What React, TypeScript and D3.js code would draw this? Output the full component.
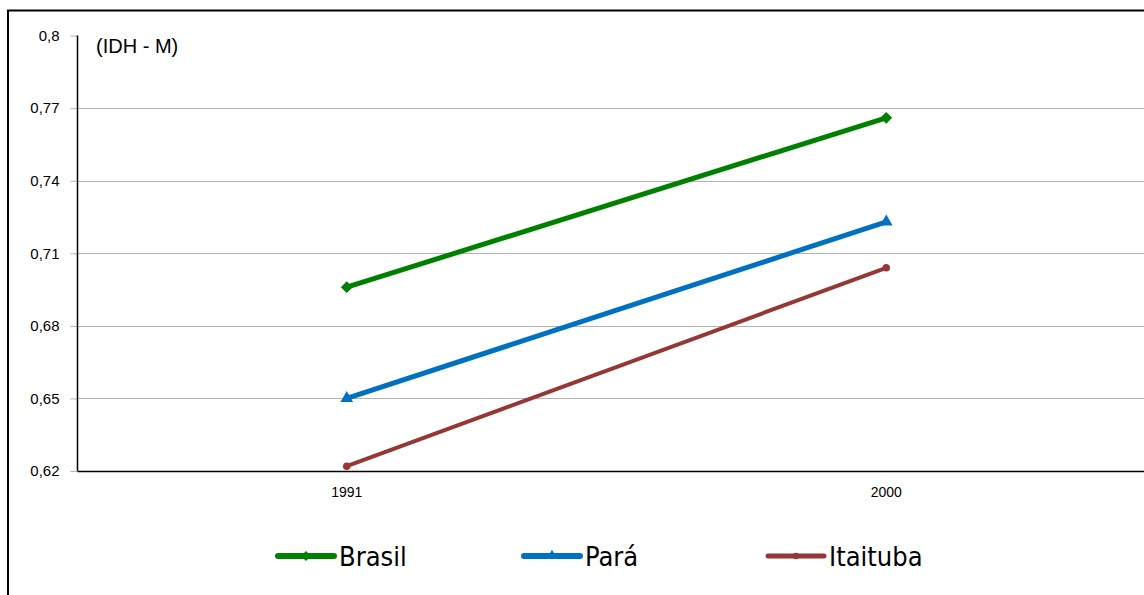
import React, { useEffect, useRef } from "react";
import * as d3 from "d3";

const years = ["1991", "2000"];
const brasil = [0.696, 0.766];
const para = [0.65, 0.723];
const itaituba = [0.622, 0.704];
const yTicks = [0.62, 0.65, 0.68, 0.71, 0.74, 0.77, 0.8];

// square rotated 45deg for a less elongated diamond
const diamond = {
  draw(ctx: any, size: number) {
    const r = Math.sqrt(size / 2);
    ctx.moveTo(0, -r);
    ctx.lineTo(r, 0);
    ctx.lineTo(0, r);
    ctx.lineTo(-r, 0);
    ctx.closePath();
  },
};

const series = [
  { name: "Brasil", values: brasil, color: "#008000", width: 5, symbol: diamond, size: 70 },
  { name: "Pará", values: para, color: "#0070C0", width: 5, symbol: d3.symbolTriangle, size: 70 },
  { name: "Itaituba", values: itaituba, color: "#953735", width: 4, symbol: d3.symbolCircle, size: 45 },
];

export default function App() {
  const ref = useRef<SVGSVGElement>(null);

  useEffect(() => {
    const svg = d3.select(ref.current);
    svg.selectAll("*").remove();

    const left = 77, right = 1156, top = 35.6, bottom = 471;
    const font = "'Liberation Sans', Arial, sans-serif";

    // outer frame
    svg.append("rect")
      .attr("x", 8).attr("y", 10.5)
      .attr("width", 1200).attr("height", 700)
      .attr("fill", "white").attr("stroke", "#000").attr("stroke-width", 2);

    const x = d3.scaleBand().domain(years).range([left, right]);
    const y = d3.scaleLinear().domain([0.62, 0.8]).range([bottom, top]);

    // grid
    svg.append("g").selectAll("line")
      .data(yTicks.filter(t => t > 0.62 && t < 0.8))
      .join("line")
      .attr("x1", left).attr("x2", 1144)
      .attr("y1", d => Math.round(y(d)) + 0.5).attr("y2", d => Math.round(y(d)) + 0.5)
      .attr("stroke", "#b3b3b3").attr("stroke-width", 1);

    // y axis
    const yAxis = d3.axisLeft(y)
      .tickValues(yTicks)
      .tickSize(7)
      .tickPadding(11)
      .tickFormat(d => String(d).replace(".", ","));
    const gy = svg.append("g").attr("transform", `translate(${left + 0.5},0)`).call(yAxis);
    gy.attr("font-size", null).attr("font-family", null);
    gy.select(".domain").remove();
    gy.selectAll(".tick line").attr("stroke", "#b3b3b3");
    gy.selectAll(".tick text")
      .style("font-family", font)
      .style("font-size", "15px").attr("fill", "#000");
    svg.append("line")
      .attr("x1", left + 0.5).attr("x2", left + 0.5)
      .attr("y1", top).attr("y2", bottom)
      .attr("stroke", "#000").attr("stroke-width", 1.5);

    // x axis
    const xAxis = d3.axisBottom(x).tickSize(0).tickPadding(16);
    const gx = svg.append("g").attr("transform", `translate(0,${bottom})`).call(xAxis);
    gx.attr("font-size", null).attr("font-family", null);
    gx.select(".domain").attr("stroke", "#000").attr("stroke-width", 1.5);
    gx.selectAll(".tick text")
      .style("font-family", font)
      .style("font-size", "14px").attr("fill", "#000");

    svg.append("text")
      .attr("x", 96).attr("y", 53)
      .style("font-family", font)
      .style("font-size", "20px")
      .text("(IDH - M)");

    const cx = (i: number) => (x(years[i]) as number) + x.bandwidth() / 2;
    const line = d3.line<number>().x((_, i) => cx(i)).y(d => y(d));

    series.forEach(s => {
      svg.append("path")
        .datum(s.values)
        .attr("d", line)
        .attr("fill", "none")
        .attr("stroke", s.color)
        .attr("stroke-width", s.width)
        .attr("stroke-linecap", "round");
      svg.append("g").selectAll("path")
        .data(s.values)
        .join("path")
        .attr("transform", (d, i) => `translate(${cx(i)},${y(d)})`)
        .attr("d", d3.symbol().type(s.symbol as any).size(s.size)())
        .attr("fill", s.color);
    });

    // legend
    const legendX = [278, 524, 768];
    series.forEach((s, i) => {
      const g = svg.append("g").attr("transform", `translate(${legendX[i]},556)`);
      g.append("line")
        .attr("x1", 0).attr("x2", 56)
        .attr("stroke", s.color).attr("stroke-width", s.width + 1)
        .attr("stroke-linecap", "round");
      g.append("path")
        .attr("transform", "translate(28,0)")
        .attr("d", d3.symbol().type(s.symbol as any).size(s.size * 0.7)())
        .attr("fill", s.color);
      g.append("text")
        .attr("x", 61).attr("y", 10)
        .style("font-family", "'Liberation Sans Narrow', 'DejaVu Sans Condensed', sans-serif")
        .style("font-size", "27px")
        .text(s.name);
    });
  }, []);

  return (
    <svg
      ref={ref}
      width={1144}
      height={595}
      style={{ position: "absolute", left: 0, top: 0, display: "block", background: "white" }}
    />
  );
}
